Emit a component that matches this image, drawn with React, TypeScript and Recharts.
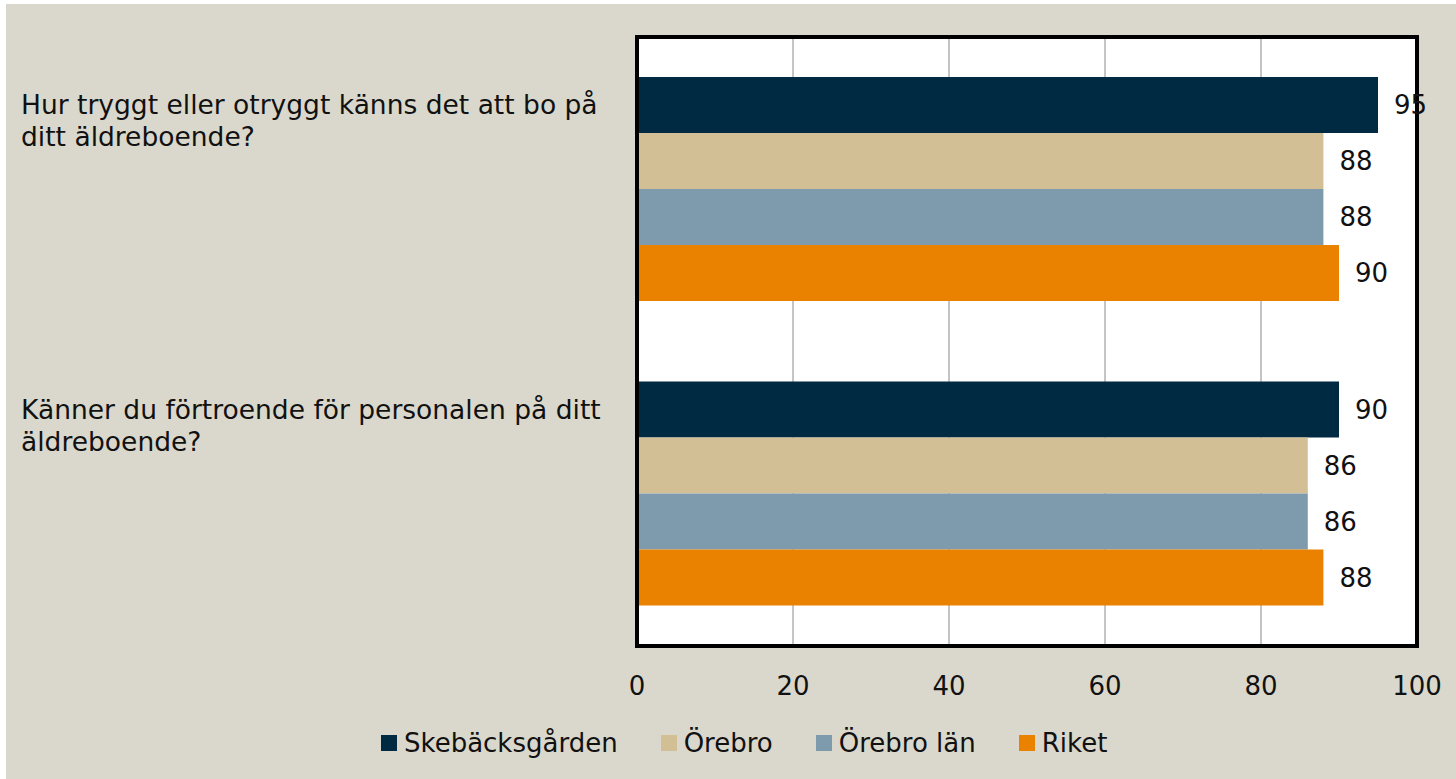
import React from 'react';
import {
  BarChart,
  Bar,
  XAxis,
  YAxis,
  CartesianGrid,
  Legend,
  LabelList,
  ReferenceArea,
} from 'recharts';

const categories = [
  'Hur tryggt eller otryggt känns det att bo på ditt äldreboende?',
  'Känner du förtroende för personalen på ditt äldreboende?',
];
const skebacksgarden = [95, 90];
const orebro = [88, 86];
const orebroLan = [88, 86];
const riket = [90, 88];
const xTicks = [0, 20, 40, 60, 80, 100];

const seriesDefs = [
  { key: 'Skebäcksgården', color: '#002A42', values: skebacksgarden },
  { key: 'Örebro', color: '#D3BF96', values: orebro },
  { key: 'Örebro län', color: '#7E9BAD', values: orebroLan },
  { key: 'Riket', color: '#EA8200', values: riket },
];

const data = categories.map((name, i) => {
  const row: Record<string, string | number> = { name };
  seriesDefs.forEach((s) => {
    row[s.key] = s.values[i];
  });
  return row;
});

const FONT = '"DejaVu Sans", sans-serif';

function wrapText(text: string, maxChars: number): string[] {
  const words = text.split(' ');
  const lines: string[] = [];
  let cur = '';
  for (const w of words) {
    const next = cur ? cur + ' ' + w : w;
    if (next.length > maxChars && cur) {
      lines.push(cur);
      cur = w;
    } else {
      cur = next;
    }
  }
  if (cur) lines.push(cur);
  return lines;
}

function CategoryTick({ y, payload }: { y?: number; payload?: { value: string } }) {
  if (y == null || !payload) return null;
  const lines = wrapText(payload.value, 44);
  return (
    <text x={15} y={y - 75} fill="#111" fontSize={26.5} fontFamily={FONT} textAnchor="start">
      {lines.map((l, i) => (
        <tspan key={i} x={15} dy={i === 0 ? 0 : 32}>
          {l}
        </tspan>
      ))}
    </text>
  );
}

function LegendContent() {
  return (
    <div style={{ display: 'flex', alignItems: 'center', gap: 43, fontFamily: FONT, fontSize: 26, color: '#111' }}>
      {seriesDefs.map((s) => (
        <div key={s.key} style={{ display: 'flex', alignItems: 'center', gap: 7 }}>
          <span style={{ width: 16, height: 16, background: s.color, display: 'inline-block' }} />
          <span>{s.key}</span>
        </div>
      ))}
    </div>
  );
}

export default function App() {
  return (
    <div
      style={{
        position: 'absolute',
        left: 6,
        top: 4,
        width: 1450,
        height: 775,
        background: '#DAD8CC',
        fontFamily: FONT,
      }}
    >
      <BarChart
        width={1450}
        height={775}
        data={data}
        layout="vertical"
        margin={{ top: 33, right: 39, left: 0, bottom: 21 }}
        barCategoryGap={40}
        barGap={0}
      >
        <CartesianGrid horizontal={false} stroke="#8a8a8a" fill="#ffffff" />
        <XAxis
          type="number"
          domain={[0, 100]}
          ticks={xTicks}
          height={82}
          axisLine={{ stroke: '#000', strokeWidth: 4 }}
          tickLine={false}
          tickMargin={25}
          tick={{ fill: '#111', fontSize: 26, fontFamily: FONT }}
        />
        <YAxis
          type="category"
          dataKey="name"
          width={631}
          axisLine={{ stroke: '#000', strokeWidth: 4 }}
          tickLine={false}
          tick={<CategoryTick />}
        />
        <Legend
          verticalAlign="bottom"
          height={30}
          content={<LegendContent />}
          wrapperStyle={{ left: 375, width: 780 }}
        />
        {seriesDefs.map((s) => (
          <Bar key={s.key} dataKey={s.key} fill={s.color} isAnimationActive={false}>
            <LabelList
              dataKey={s.key}
              position="right"
              offset={16}
              fill="#111"
              fontSize={26}
              fontFamily={FONT}
            />
          </Bar>
        ))}
        <ReferenceArea
          x1={0}
          x2={100}
          fill="none"
          fillOpacity={0}
          stroke="#000"
          strokeWidth={4}
          ifOverflow="visible"
        />
      </BarChart>
    </div>
  );
}
